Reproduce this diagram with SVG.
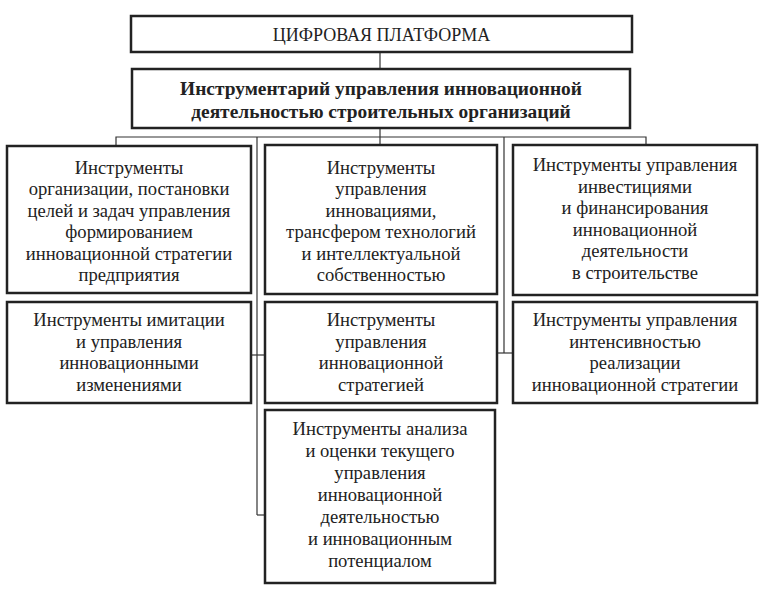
<svg xmlns="http://www.w3.org/2000/svg" width="766" height="592" viewBox="0 0 766 592">
<style>
.box{fill:#fff;stroke:#222;stroke-width:2.5}
.t{font-family:"Liberation Serif","Times New Roman",serif;font-size:18.6px;fill:#222;text-anchor:middle}
.b{font-weight:bold;font-size:19.4px}
.cap{font-size:18px}
.c{fill:none;stroke:#333;stroke-width:1.2}
</style>
<rect width="766" height="592" fill="#fff"/>
<g id="connectors">
<line class="c" x1="380" y1="52" x2="380" y2="69"/>
<polyline class="c" points="116,146 116,137 646,137 646,145"/>
<line class="c" x1="380" y1="128" x2="380" y2="145"/>
<line class="c" x1="257" y1="137" x2="257" y2="515"/>
<line class="c" x1="257" y1="515" x2="265" y2="515"/>
<line class="c" x1="251" y1="355" x2="265" y2="355"/>
<line class="c" x1="504" y1="137" x2="504" y2="353"/>
<line class="c" x1="497" y1="353" x2="513" y2="353"/>
</g>
<g id="platform">
<rect class="box" x="131" y="16" width="501" height="36"/>
<text class="t cap" x="381.5" y="40.5">ЦИФРОВАЯ ПЛАТФОРМА</text>
</g>
<g id="toolkit">
<rect class="box" x="132" y="69" width="498" height="59"/>
<text class="t b" x="381" y="94.5">Инструментарий управления инновационной</text>
<text class="t b" x="381" y="117.5">деятельностью строительных организаций</text>
</g>
<g id="org">
<rect class="box" x="7" y="146" width="244" height="147"/>
<text class="t" x="129" y="173.5">Инструменты</text>
<text class="t" x="129" y="195">организации, постановки</text>
<text class="t" x="129" y="216.5">целей и задач управления</text>
<text class="t" x="129" y="238">формированием</text>
<text class="t" x="129" y="259.5">инновационной стратегии</text>
<text class="t" x="129" y="281">предприятия</text>
</g>
<g id="innov">
<rect class="box" x="265" y="145" width="232" height="149"/>
<text class="t" x="381" y="173.5">Инструменты</text>
<text class="t" x="381" y="195">управления</text>
<text class="t" x="381" y="216.5">инновациями,</text>
<text class="t" x="381" y="238">трансфером технологий</text>
<text class="t" x="381" y="259.5">и интеллектуальной</text>
<text class="t" x="381" y="281">собственностью</text>
</g>
<g id="invest">
<rect class="box" x="513" y="145" width="244" height="150"/>
<text class="t" x="635" y="171">Инструменты управления</text>
<text class="t" x="635" y="192.5">инвестициями</text>
<text class="t" x="635" y="214">и финансирования</text>
<text class="t" x="635" y="235.5">инновационной</text>
<text class="t" x="635" y="257">деятельности</text>
<text class="t" x="635" y="278.5">в строительстве</text>
</g>
<g id="imitation">
<rect class="box" x="7" y="302" width="244" height="101"/>
<text class="t" x="129" y="326">Инструменты имитации</text>
<text class="t" x="129" y="347.5">и управления</text>
<text class="t" x="129" y="369">инновационными</text>
<text class="t" x="129" y="390.5">изменениями</text>
</g>
<g id="strategy">
<rect class="box" x="265" y="302" width="232" height="101"/>
<text class="t" x="381" y="326">Инструменты</text>
<text class="t" x="381" y="347.5">управления</text>
<text class="t" x="381" y="369">инновационной</text>
<text class="t" x="381" y="390.5">стратегией</text>
</g>
<g id="intensity">
<rect class="box" x="513" y="302" width="244" height="101"/>
<text class="t" x="635" y="326">Инструменты управления</text>
<text class="t" x="635" y="347.5">интенсивностью</text>
<text class="t" x="635" y="369">реализации</text>
<text class="t" x="635" y="390.5">инновационной стратегии</text>
</g>
<g id="analysis">
<rect class="box" x="265" y="410" width="230" height="173"/>
<text class="t" x="380" y="435">Инструменты анализа</text>
<text class="t" x="380" y="457">и оценки текущего</text>
<text class="t" x="380" y="479">управления</text>
<text class="t" x="380" y="501">инновационной</text>
<text class="t" x="380" y="523">деятельностью</text>
<text class="t" x="380" y="545">и инновационным</text>
<text class="t" x="380" y="567">потенциалом</text>
</g>
</svg>
